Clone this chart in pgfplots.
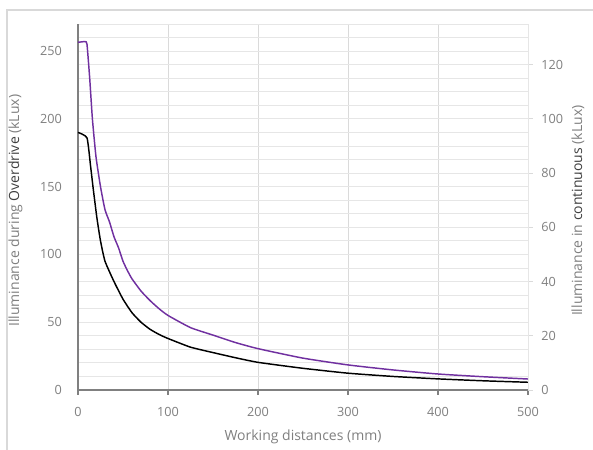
\documentclass[border=0pt]{standalone}
\usepackage{pgfplots}
\pgfplotsset{compat=1.18}
\usepackage{fontspec}
\setmainfont{Open Sans}
\definecolor{lblgray}{HTML}{7F7F7F}
\definecolor{darklbl}{HTML}{404040}
\definecolor{axgray}{HTML}{808080}
\definecolor{gridgray}{HTML}{E6E6E6}
\definecolor{vgrid}{HTML}{DADADA}
\definecolor{odpurple}{HTML}{7030A0}
\definecolor{framegray}{HTML}{D9D9D9}

% overdrive, left axis (kLux)
\pgfplotstableread{
x y
0 256.5
8 257
10 255
13 230
16 200
20 172
25 150
30 133
35 124
40 113
45 105
50 95
55 88
60 82
70 73
80 66
90 60
100 55
125 46
150 40.5
175 35
200 30.5
250 23.5
300 18.5
350 14.8
400 11.8
450 9.8
500 8.1
}\overdrive

% continuous, right axis (kLux)
\pgfplotstableread{
x y
0 95
10 93
14 82.5
17 74
21 63.5
25 55
30 47.5
40 40
50 33.5
60 28.5
70 25
80 22.4
90 20.5
100 19
125 15.8
150 13.8
175 11.9
200 10.2
250 8
300 6.2
350 5
400 4.1
450 3.4
500 2.85
}\continuous

\begin{document}
\begin{tikzpicture}[font=\fontsize{10}{12}\selectfont]
\pgfplotsset{
  every axis/.append style={
    scale only axis, width=337.5pt, height=274.5pt,
    xmin=0, xmax=500,
    /pgf/number format/assume math mode=true,
    tick label style={font=\fontsize{9.5}{11}\selectfont, text=lblgray},
    label style={font=\fontsize{10.5}{12}\selectfont, text=lblgray},
  },
}
\useasboundingbox (-58.5pt,-45pt) rectangle (386.25pt,292.5pt);
\draw[framegray, line width=1.5pt] (-53.25pt,-50pt) -- (-53.25pt,285pt) -- (400pt,285pt);
\begin{axis}[
  ymin=0, ymax=270,
  axis x line*=bottom, axis y line*=left,
  axis line style={axgray, line width=1.3pt},
  xtick={0,100,...,500},
  ytick={0,50,...,250},
  minor ytick={10,20,...,270},
  ymajorgrids, yminorgrids, xmajorgrids,
  major grid style={gridgray, line width=0.6pt},
  minor grid style={gridgray, line width=0.6pt},
  x grid style={vgrid, line width=0.7pt},
  tick align=outside,
  major tick length=3.5pt,
  xtick style={axgray, line width=1pt},
  ytick style={draw=none},
  minor tick length=0pt,
  yticklabel style={xshift=-5pt},
  xticklabel style={yshift=-6pt},
  xlabel={Working distances (mm)},
  xlabel style={at={(axis description cs:0.5,0)}, anchor=center, yshift=-35pt},
  ylabel={Illuminance during \textcolor{darklbl}{Overdrive} (kLux)},
  ylabel style={at={(axis description cs:-0.139,0.49)}, anchor=center},
]
\addplot[odpurple, line width=1.1pt, smooth, tension=0.3] table[x=x, y=y] {\overdrive};
\end{axis}
\begin{axis}[
  ymin=0, ymax=135,
  axis y line*=right, axis x line=none,
  y axis line style={gridgray, line width=0.6pt},
  ytick={0,20,...,120},
  tick align=outside,
  major tick length=3.5pt,
  ytick style={vgrid, line width=0.6pt},
  yticklabel style={xshift=3pt},
  ylabel={Illuminance in \textcolor{darklbl}{continuous} (kLux)},
  ylabel style={at={(axis description cs:1.111,0.49)}, anchor=center},
]
\addplot[black, line width=1.1pt, smooth, tension=0.3] table[x=x, y=y] {\continuous};
\end{axis}
\end{tikzpicture}
\end{document}
